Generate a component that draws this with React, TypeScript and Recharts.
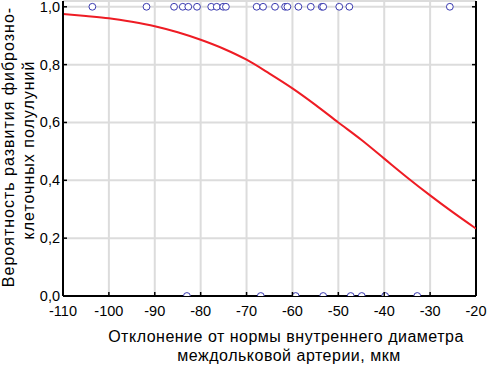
import React from "react";
import {
  ComposedChart,
  Line,
  Scatter,
  XAxis,
  YAxis,
  CartesianGrid,
  ReferenceLine,
} from "recharts";

// ---- data ----
const xTicks = [-110, -100, -90, -80, -70, -60, -50, -40, -30, -20];
const yTicks = [0, 0.2, 0.4, 0.6, 0.8, 1.0];

const curveX = [-110, -105, -100, -95, -90, -85, -80, -75, -70, -65, -60, -55, -50, -45, -40, -35, -30, -25, -20];
const curveY = [0.975, 0.968, 0.96, 0.948, 0.933, 0.912, 0.886, 0.855, 0.817, 0.769, 0.718, 0.661, 0.6, 0.54, 0.475, 0.41, 0.348, 0.289, 0.233];

const topX = [-103.6, -91.8, -85.8, -83.9, -82.7, -80.8, -77.7, -76.5, -75.1, -74.5, -67.8, -66.4, -63.8, -61.6, -61.1, -58.7, -56.0, -53.6, -53.3, -49.8, -47.6, -25.7];
const bottomX = [-83.0, -66.9, -59.3, -53.3, -47.3, -44.9, -39.8, -32.8];

const xTitle = ["Отклонение от нормы внутреннего диаметра", "междольковой артерии, мкм"];
const yTitle = ["Вероятность развития фиброзно-", "клеточных полулуний"];

const curveData = curveX.map((x, i) => ({ x, y: curveY[i] }));
const pointData = [
  ...topX.map((x) => ({ x, y: 1 })),
  ...bottomX.map((x) => ({ x, y: 0 })),
];

// ---- layout ----
const W = 487;
const H = 370;
const PL = 63;
const PT = 1;
const PR = 476;
const PB = 296;
const FONT = "'Liberation Sans', Arial, sans-serif";

const fmt = (v: number) => v.toFixed(1).replace(".", ",");

const XTick = (props: any) => {
  const { x, payload } = props;
  return (
    <g>
      <line x1={x} x2={x} y1={PB} y2={PB - 4} stroke="#000" strokeWidth={1.5} />
      <text x={x} y={316} textAnchor="middle" fontSize={14.5} fontFamily={FONT} fill="#000">
        {String(payload.value)}
      </text>
    </g>
  );
};

const YTick = (props: any) => {
  const { y, payload } = props;
  return (
    <g>
      <line x1={PL} x2={PL + 4} y1={y} y2={y} stroke="#000" strokeWidth={1.5} />
      <line x1={PR} x2={PR - 4} y1={y} y2={y} stroke="#000" strokeWidth={1.5} />
      <text x={60} y={y + 5} textAnchor="end" fontSize={14.5} fontFamily={FONT} fill="#000">
        {fmt(payload.value)}
      </text>
    </g>
  );
};

const XTitle = () => (
  <g>
    <text x={286} y={341.5} textAnchor="middle" fontSize={16} letterSpacing={0.5} fontFamily={FONT} fill="#000">
      {xTitle[0]}
    </text>
    <text x={289} y={361} textAnchor="middle" fontSize={16} letterSpacing={0.5} fontFamily={FONT} fill="#000">
      {xTitle[1]}
    </text>
  </g>
);

const YTitle = () => (
  <g>
    <text transform="translate(14,147) rotate(-90)" textAnchor="middle" fontSize={16} letterSpacing={1} fontFamily={FONT} fill="#000">
      {yTitle[0]}
    </text>
    <text transform="translate(33.5,150) rotate(-90)" textAnchor="middle" fontSize={16} letterSpacing={1} fontFamily={FONT} fill="#000">
      {yTitle[1]}
    </text>
  </g>
);

const Dot = (props: any) => {
  const { cx, cy } = props;
  return <circle cx={cx} cy={cy} r={3.4} fill="#fff" stroke="#3a3ab0" strokeWidth={1} />;
};

export default function App() {
  return (
    <div style={{ position: "absolute", left: 0, top: 0, width: W, height: H, background: "#fff" }}>
      <ComposedChart
        width={W}
        height={H}
        margin={{ top: PT, right: W - PR, bottom: 0, left: 0 }}
      >
        <CartesianGrid stroke="#dcdcdc" strokeWidth={2} />
        <XAxis
          type="number"
          dataKey="x"
          domain={[-110, -20]}
          ticks={xTicks}
          allowDataOverflow
          height={H - PB}
          axisLine={{ stroke: "#000", strokeWidth: 2 }}
          tickLine={false}
          tick={<XTick />}
          interval={0}
          label={<XTitle />}
        />
        <YAxis
          type="number"
          dataKey="y"
          domain={[0, 1.02]}
          ticks={yTicks}
          allowDataOverflow
          width={PL}
          axisLine={{ stroke: "#000", strokeWidth: 2 }}
          tickLine={false}
          tick={<YTick />}
          interval={0}
          label={<YTitle />}
        />
        <ReferenceLine x={-20} stroke="#000" strokeWidth={2} />
        <Line
          data={curveData}
          dataKey="y"
          type="monotone"
          stroke="#ee1c24"
          strokeWidth={2}
          dot={false}
          isAnimationActive={false}
        />
        <Scatter data={pointData} dataKey="y" shape={<Dot />} isAnimationActive={false} />
      </ComposedChart>
    </div>
  );
}
